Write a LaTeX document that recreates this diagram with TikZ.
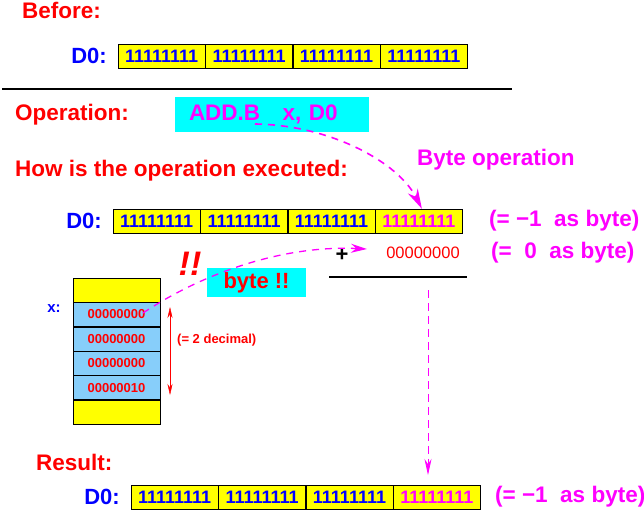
\documentclass[tikz,border=0pt]{standalone}
\usepackage{fontspec}
\setmainfont{Liberation Sans}
\usepackage{tikz}
\usetikzlibrary{positioning,arrows.meta}
\definecolor{hired}{RGB}{255, 0, 0}
\definecolor{regblue}{RGB}{0, 0, 255}
\definecolor{opmag}{RGB}{255, 0, 255}
\definecolor{cellyel}{RGB}{255, 255, 0}
\definecolor{boxcyan}{RGB}{0, 255, 255}
\definecolor{memblue}{RGB}{135, 206, 250}
\tikzstyle{heading} = [
    inner sep=0,
    anchor=west,
    text=hired,
    font=\fontsize{22.5}{26}\selectfont\bfseries
]
\tikzstyle{note} = [
    inner sep=0,
    anchor=west,
    text=opmag,
    font=\fontsize{22.5}{26}\selectfont\bfseries
]
\tikzstyle{reglabel} = [
    inner sep=0,
    text=regblue,
    font=\fontsize{22}{26}\selectfont\bfseries
]
\tikzstyle{regcell} = [
    rectangle,
    draw=black,
    fill=cellyel,
    minimum width=87pt,
    minimum height=24pt,
    inner sep=0,
    text=regblue,
    font=\fontsize{18}{20}\selectfont\bfseries
]
\tikzstyle{memcell} = [
    rectangle,
    draw=black,
    fill=memblue,
    minimum width=87pt,
    minimum height=24pt,
    inner sep=0,
    text=hired,
    font=\fontsize{13}{15}\selectfont\bfseries
]
\tikzstyle{flow} = [
    draw=opmag,
    line width=1.6pt,
    dash pattern=on 7pt off 6pt,
    -{Stealth[length=20pt,width=11pt]}
]

\begin{document}
\begin{tikzpicture}[x=1pt, y=-1pt]
    \useasboundingbox (0,0) rectangle (644,510);

    % before
    \node[heading] (before) at (22,10) {Before:};
    \node[regcell, anchor=west] (a1) at (118,56) {11111111};
    \node[regcell, right=0pt of a1] (a2) {11111111};
    \node[regcell, right=0pt of a2] (a3) {11111111};
    \node[regcell, right=0pt of a3] (a4) {11111111};
    \node[reglabel, left=11pt of a1] (a0) {D0:};
    \draw[line width=2pt] (2,89) -- (512,89);

    % operation
    \node[heading] (operation) at (15,115) {Operation:};
    \node[fill=boxcyan, minimum height=35pt, text width=166pt, inner xsep=14pt, inner ysep=0,
        align=left, text=opmag, font=\fontsize{22.5}{26}\selectfont\bfseries] (opbox) at (272,114.5) {ADD.B\quad x, D0};
    \node[heading] (how) at (15,171) {How is the operation executed:};
    \node[note] (byteop) at (417,160) {Byte operation};

    \node[regcell, anchor=west] (c1) at (113,221) {11111111};
    \node[regcell, right=0pt of c1] (c2) {11111111};
    \node[regcell, right=0pt of c2] (c3) {11111111};
    \node[regcell, right=0pt of c3, text=opmag] (c4) {11111111};
    \node[reglabel, left=11pt of c1] (c0) {D0:};
    \node[note] (cval) at (489,221) {(= −1\ \ as byte)};

    \node[inner sep=0, font=\fontsize{22}{24}\selectfont\bfseries] (plus) at (342,255) {+};
    \node[inner sep=0, text=hired, font=\fontsize{16.5}{18}\selectfont] (addend) at (423,253) {00000000};
    \node[note] (aval) at (491,253) {(=\ \ 0\ \ as byte)};
    \draw[line width=1.6pt] (329,277) -- (467,277);

    % memory
    \node[memcell, fill=cellyel] (m0) at (116.5,290) {};
    \node[memcell, below=0pt of m0] (m1) {00000000};
    \node[memcell, below=0pt of m1] (m2) {00000000};
    \node[memcell, below=0pt of m2] (m3) {00000000};
    \node[memcell, below=0pt of m3] (m4) {00000010};
    \node[memcell, fill=cellyel, below=0pt of m4] (m5) {};
    \node[inner sep=0, text=regblue, font=\fontsize{15}{17}\selectfont\bfseries] (xlabel) at (54,309) {x:};

    \coordinate (spantop) at (170,307);
    \coordinate (spanbot) at (170,395);
    \draw[hired, {Stealth[length=11pt,width=5pt]}-{Stealth[length=11pt,width=5pt]}] (spantop) -- (spanbot);
    \node[inner sep=0, anchor=west, text=hired, font=\fontsize{13}{15}\selectfont\bfseries] (dec) at (177,340) {(= 2 decimal)};

    \node[inner sep=0, text=hired, font=\fontsize{34}{38}\selectfont\bfseries\itshape] (bang) at (190,264) {!!};
    \node[fill=boxcyan, minimum width=99pt, minimum height=29pt, inner sep=0, text=hired,
        font=\fontsize{22}{26}\selectfont\bfseries] (bytebox) at (256.5,282.5) {byte !!};

    % arrows
    \coordinate (opstart) at (255,124);
    \draw[flow] (opstart) .. controls (330,125) and (398,162) .. ([xshift=3pt]c4.north);
    \coordinate (memstart) at (143,313);
    \coordinate (addtip) at (367,249);
    \draw[flow, line width=1.3pt, -{Stealth[length=16pt,width=9pt]}] (memstart) .. controls (200,275) and (280,245) .. (addtip);
    \coordinate (sumdown) at (428,290);
    \coordinate (restip) at (428,475);
    \draw[opmag, line width=0.8pt, dash pattern=on 8pt off 5pt, -{Stealth[length=16pt,width=7pt]}] (sumdown) -- (restip);

    % result
    \node[heading] (result) at (36,462) {Result:};
    \node[regcell, anchor=west] (d1) at (131,497) {11111111};
    \node[regcell, right=0pt of d1] (d2) {11111111};
    \node[regcell, right=0pt of d2] (d3) {11111111};
    \node[regcell, right=0pt of d3, text=opmag] (d4) {11111111};
    \node[reglabel, left=11pt of d1] (d0) {D0:};
    \node[note] (dval) at (495,497) {(= −1\ \ as byte)};
\end{tikzpicture}
\end{document}
